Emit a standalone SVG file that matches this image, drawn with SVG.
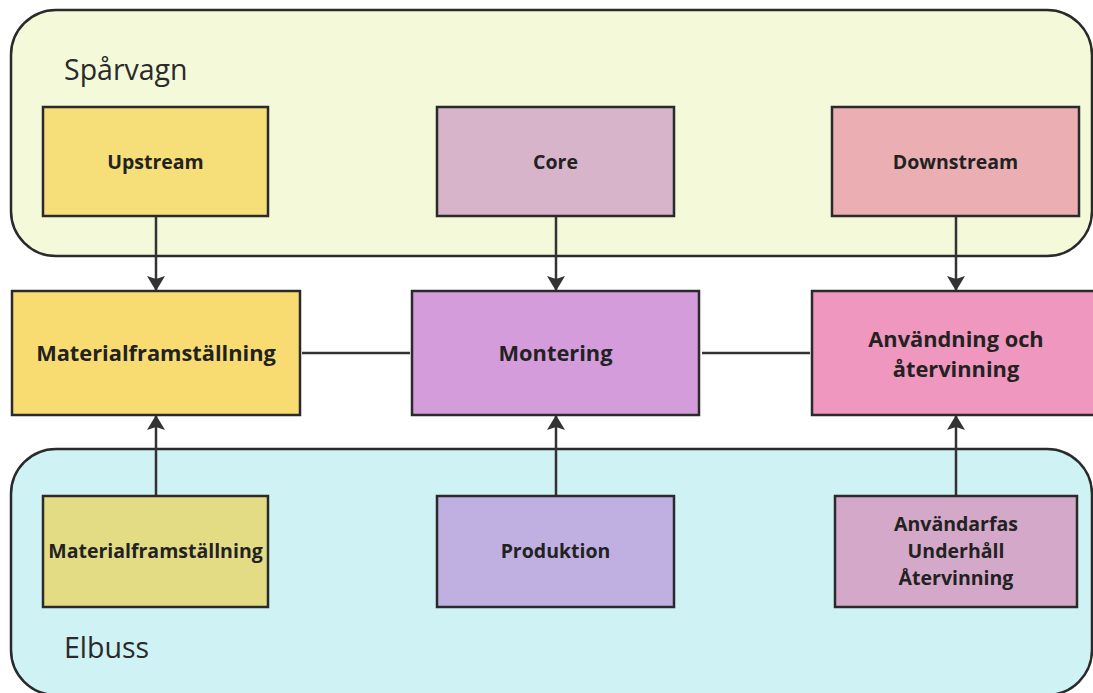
<svg xmlns="http://www.w3.org/2000/svg" width="1093" height="693" viewBox="0 0 1093 693">
<defs>
<style>
.cont{stroke:#2a2a2a;stroke-width:2.5}
.box rect{stroke:#2a2a2a;stroke-width:2.5}
.lbl{font-family:"Open Sans","Noto Sans","Liberation Sans",sans-serif;font-weight:bold;fill:#222;text-anchor:middle}
.s{font-size:19.5px}
.m{font-size:21.8px}
.grp{font-family:"Open Sans","Noto Sans","Liberation Sans",sans-serif;font-size:28.5px;fill:#2a2a2a}
.edge{stroke:#333;stroke-width:2.5;fill:none}
</style>
<marker id="ah" viewBox="0 0 15 18" refX="15" refY="9" markerWidth="15" markerHeight="18" markerUnits="userSpaceOnUse" orient="auto">
<path d="M0,0 L15,9 L0,18 L3,9 Z" fill="#333"/>
</marker>
</defs>
<rect width="1093" height="693" fill="#ffffff"/>
<g id="group-sparvagn">
<rect class="cont" x="11" y="10" width="1081" height="246" rx="45" fill="#f3f9d9"/>
<text class="grp" x="64" y="80">Spårvagn</text>
</g>
<g id="group-elbuss">
<rect class="cont" x="11" y="449" width="1081" height="246" rx="45" fill="#cff3f4"/>
<text class="grp" x="64" y="658">Elbuss</text>
</g>
<g id="connectors">
<line class="edge" x1="156" y1="216" x2="156" y2="291" marker-end="url(#ah)"/>
<line class="edge" x1="556" y1="216" x2="556" y2="291" marker-end="url(#ah)"/>
<line class="edge" x1="956" y1="216" x2="956" y2="291" marker-end="url(#ah)"/>
<line class="edge" x1="156" y1="496" x2="156" y2="415" marker-end="url(#ah)"/>
<line class="edge" x1="556" y1="496" x2="556" y2="415" marker-end="url(#ah)"/>
<line class="edge" x1="956" y1="496" x2="956" y2="415" marker-end="url(#ah)"/>
<line class="edge" x1="302" y1="353" x2="410" y2="353"/>
<line class="edge" x1="702" y1="353" x2="810" y2="353"/>
</g>
<g id="upstream" class="box">
<rect x="43" y="107" width="225" height="109" fill="#f6de79"/>
<text class="lbl s" x="155.5" y="169">Upstream</text>
</g>
<g id="core" class="box">
<rect x="437" y="107" width="237" height="109" fill="#d8b4cb"/>
<text class="lbl s" x="555.5" y="169">Core</text>
</g>
<g id="downstream" class="box">
<rect x="832" y="107" width="247" height="109" fill="#ebaeb3"/>
<text class="lbl s" x="955.5" y="169">Downstream</text>
</g>
<g id="materialframstallning" class="box">
<rect x="12" y="291" width="288" height="124" fill="#f9dc71"/>
<text class="lbl m" x="156" y="361">Materialframställning</text>
</g>
<g id="montering" class="box">
<rect x="412" y="291" width="287" height="124" fill="#d59cdc"/>
<text class="lbl m" x="555.5" y="361">Montering</text>
</g>
<g id="anvandning" class="box">
<rect x="812" y="291" width="285" height="124" fill="#f097bf"/>
<text class="lbl m" x="956" y="347">Användning och</text>
<text class="lbl m" x="956" y="377">återvinning</text>
</g>
<g id="elbuss-material" class="box">
<rect x="43" y="496" width="225" height="111" fill="#e3dc85"/>
<text class="lbl s" x="155.5" y="558">Materialframställning</text>
</g>
<g id="produktion" class="box">
<rect x="437" y="496" width="237" height="111" fill="#c0b0e2"/>
<text class="lbl s" x="555.5" y="558">Produktion</text>
</g>
<g id="anvandarfas" class="box">
<rect x="835" y="496" width="242" height="111" fill="#d4a8c8"/>
<text class="lbl s" x="956" y="531">Användarfas</text>
<text class="lbl s" x="956" y="558">Underhåll</text>
<text class="lbl s" x="956" y="585">Återvinning</text>
</g>
</svg>
